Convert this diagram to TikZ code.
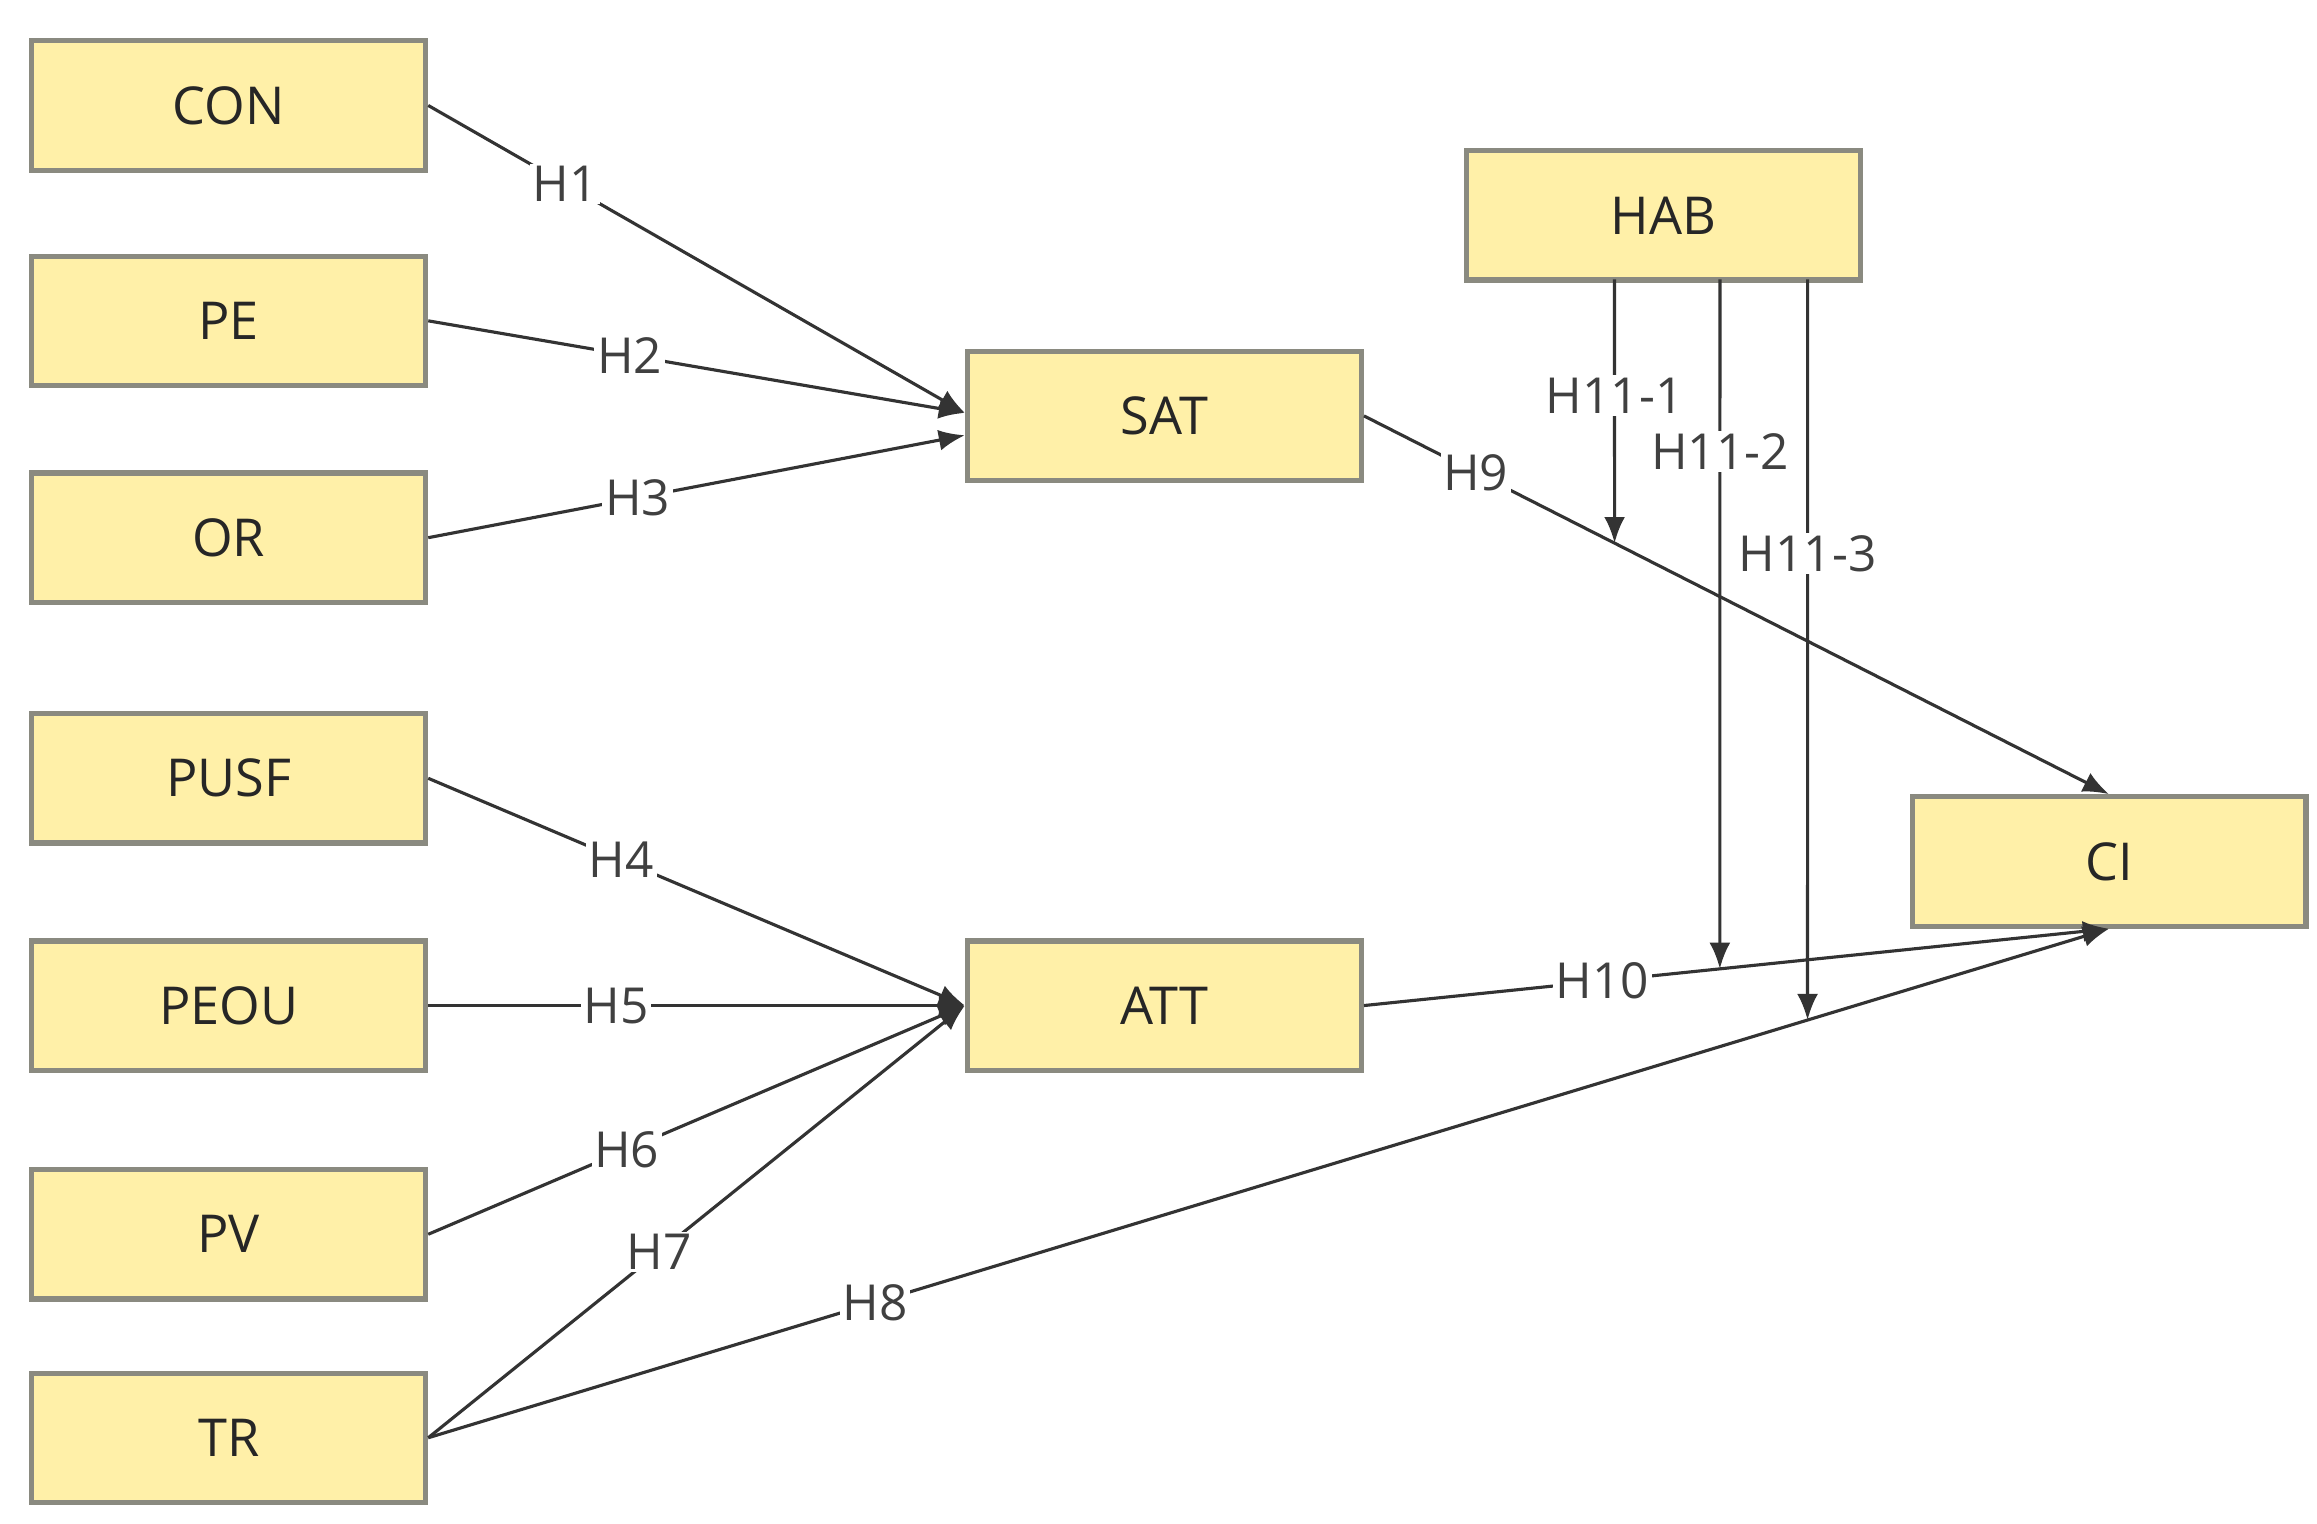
\documentclass[tikz,border=0pt]{standalone}
\usepackage{fontspec}
\setmainfont{Open Sans}
\usetikzlibrary{arrows.meta,calc}
\definecolor{boxfill}{HTML}{FFF0A8}
\definecolor{boxdraw}{HTML}{8A8A80}
\definecolor{lab}{HTML}{404040}
\begin{document}
\begin{tikzpicture}[x=0.01cm,y=-0.01cm,
  box/.style={draw=boxdraw,line width=1pt,fill=boxfill,minimum width=2.65cm,minimum height=0.87cm,inner sep=0pt,font=\fontsize{10}{12}\selectfont,text=black!85},
  ed/.style={draw=black!80,line width=0.6pt,-{Latex[length=5pt,width=4pt]}},
  lb/.style={fill=white,inner sep=0.5pt,text=lab,font=\fontsize{9.5}{11}\selectfont}]
\useasboundingbox (0,0) rectangle (1560,1026);
\node[box] (CON) at (154,71) {CON};
\node[box] (PE) at (154,216) {PE};
\node[box] (OR) at (154,362) {OR};
\node[box] (PUSF) at (154,524) {PUSF};
\node[box] (PEOU) at (154,677) {PEOU};
\node[box] (PV) at (154,831) {PV};
\node[box] (TR) at (154,968) {TR};
\node[box] (SAT) at (784,280) {SAT};
\node[box] (ATT) at (784,677) {ATT};
\node[box] (HAB) at (1120,145) {HAB};
\node[box] (CI) at (1420,580) {CI};
\coordinate (SATin) at ([yshift=0.02cm]SAT.west);
\coordinate (SATin3) at ([yshift=-0.13cm]SAT.west);
\coordinate (CIin) at ([yshift=-0.43cm]CI.south);
\draw[ed] (CON.east) -- node[lb,pos=0.255]{H1} (SATin);
\draw[ed] (PE.east) -- node[lb,pos=0.375]{H2} (SATin);
\draw[ed] (OR.east) -- node[lb,pos=0.39]{H3} (SATin3);
\draw[ed] (PUSF.east) -- node[lb,pos=0.36]{H4} (ATT.west);
\draw[ed] (PEOU.east) -- node[lb,pos=0.35]{H5} (ATT.west);
\draw[ed] (PV.east) -- node[lb,pos=0.37]{H6} (ATT.west);
\draw[ed] (TR.east) -- node[lb,pos=0.43]{H7} (ATT.west);
\draw[ed] (TR.east) -- node[lb,pos=0.266]{H8} (CI.south);
\draw[ed] (SAT.east) -- node[lb,pos=0.15]{H9} (CI.north);
\draw[ed] (ATT.east) -- node[lb,pos=0.32]{H10} (CI.south);
\coordinate (h1) at (1087,188); \coordinate (h1b) at (1087,900);
\coordinate (h2) at (1158,188); \coordinate (h2b) at (1158,900);
\coordinate (h3) at (1217,188); \coordinate (h3b) at (1217,900);
\coordinate (m1) at (intersection of SAT.east--CI.north and h1--h1b);
\coordinate (m2) at (intersection of ATT.east--CI.south and h2--h2b);
\coordinate (m3) at (intersection of TR.east--CI.south and h3--h3b);
\draw[ed] (h1) -- node[lb,pos=0.44]{H11-1} (m1);
\draw[ed] (h2) -- node[lb,pos=0.25]{H11-2} (m2);
\draw[ed] (h3) -- node[lb,pos=0.37]{H11-3} (m3);
\end{tikzpicture}
\end{document}
